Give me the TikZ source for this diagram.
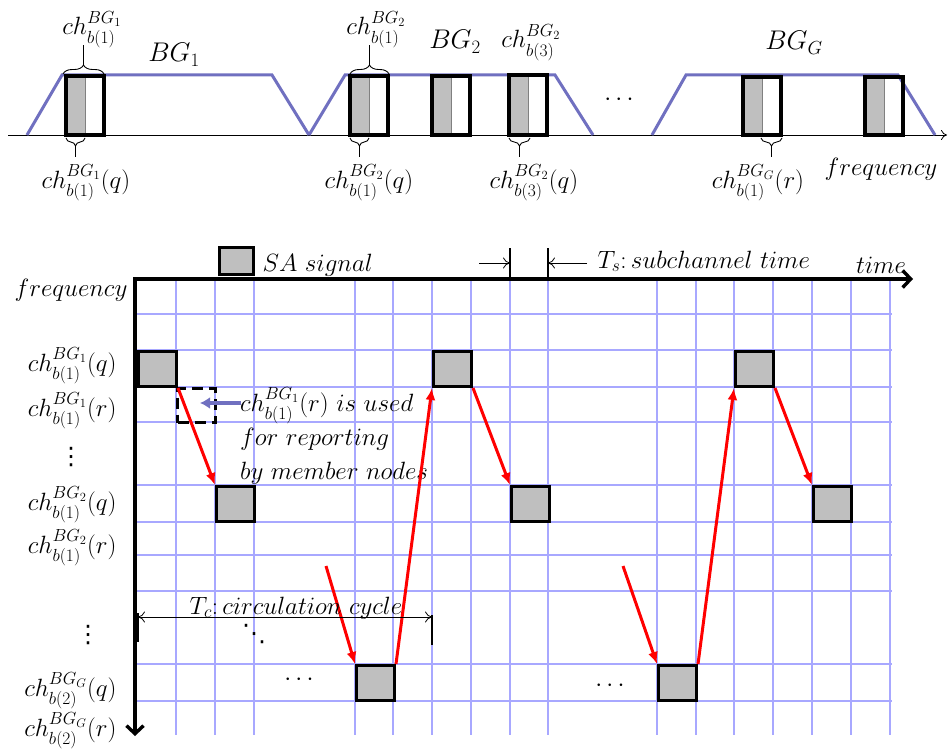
\RequirePackage{fix-cm}
\documentclass[tikz,border=0pt]{standalone}
\usepackage{amsmath, amssymb}
\usepackage{fontspec}
\usepackage{tikz}
\usetikzlibrary{arrows.meta, positioning, calc, decorations.pathreplacing}
\newfontfamily\dotsfont{DejaVu Sans}
\definecolor{BandBlue}{HTML}{7070C0}
\definecolor{GridBlue}{HTML}{A8A8FF}
\definecolor{SAGray}{HTML}{BFBFBF}
\definecolor{HopRed}{HTML}{FF0000}
\newcommand{\lbl}{\fontsize{25}{34}\selectfont}
\newcommand{\bglbl}{\fontsize{27}{32}\selectfont}
\newcommand{\dotlbl}{\dotsfont\fontsize{24}{28}\selectfont}

\begin{document}
\begin{tikzpicture}[x=1pt, y=-1pt,
    band/.style={BandBlue, line width=3pt},
    chbox/.style={line width=3.2pt},
    chbrace/.style={decorate, decoration={brace, amplitude=9pt}, line width=0.9pt},
    gridline/.style={GridBlue, line width=1.3pt},
    axisline/.style={line width=3.4pt, -{Straight Barb[length=8pt, width=17pt, line width=3.4pt]}},
    sabox/.style={draw, line width=3pt, fill=SAGray, minimum width=38pt, minimum height=35pt, inner sep=0pt, anchor=north west},
    reportbox/.style={draw, line width=3pt, dash pattern=on 11pt off 6pt, minimum width=38pt, minimum height=34pt, inner sep=0pt, anchor=north west},
    hop/.style={HopRed, line width=3pt, -{Latex[length=12pt, width=10pt]}},
    dimline/.style={line width=0.8pt},
    tick/.style={line width=2.4pt}]
    \useasboundingbox (0,0) rectangle (949,749);

    % subchannel bands
    \draw[-{To[length=6pt, width=10pt]}, line width=0.8pt] (8,135) -- (947,135);
    \draw[band] (27,135) -- (62,75) -- (272,75) -- (309,135);
    \draw[band] (309,135) -- (345,75) -- (555,75) -- (593,135);
    \draw[band] (652,135) -- (686,75) -- (898,75) -- (935,135);
    \foreach \x/\t in {66/76, 350/76, 432/76, 509/75, 743/77, 865/77} {
        \fill[SAGray] (\x,\t) rectangle (\x+19,135);
        \draw[gray, line width=0.8pt] (\x+19,\t) -- (\x+19,135);
        \draw[chbox] (\x,\t) rectangle (\x+38,135);
    }
    \draw[chbrace] (63,74) -- (104,74);
    \draw[line width=0.9pt] (83.5,65) -- (83.5,45);
    \draw[chbrace] (350,74) -- (389,74);
    \draw[line width=0.9pt] (369.5,65) -- (369.5,45);
    \foreach \a/\b in {66/85, 350/369, 509/530, 761/782} {
        \draw[chbrace, decoration={amplitude=8pt}] (\b,138) -- (\a,138);
        \draw[line width=0.9pt] ({(\a+\b)/2},146) -- ({(\a+\b)/2},157);
    }
    \node[font=\lbl, anchor=base] at (92,35) {$ch^{BG_1}_{b(1)}$};
    \node[font=\lbl, anchor=base] at (376,35) {$ch^{BG_2}_{b(1)}$};
    \node[font=\lbl, anchor=base] at (531,48) {$ch^{BG_2}_{b(3)}$};
    \node[font=\lbl, anchor=base] at (86,188) {$ch^{BG_1}_{b(1)}(q)$};
    \node[font=\lbl, anchor=base] at (369,188) {$ch^{BG_2}_{b(1)}(q)$};
    \node[font=\lbl, anchor=base] at (534,188) {$ch^{BG_2}_{b(3)}(q)$};
    \node[font=\lbl, anchor=base] at (758,188) {$ch^{BG_G}_{b(1)}(r)$};
    \node[font=\lbl, anchor=base] at (881,175) {$frequency$};
    \node[font=\bglbl, anchor=base] at (174,62) {$BG_1$};
    \node[font=\bglbl, anchor=base] at (455,49) {$BG_2$};
    \node[font=\bglbl, anchor=base] at (794,50) {$BG_G$};
    \node[font=\lbl] at (621,100) {$\cdots$};

    % time-frequency grid
    \foreach \y in {314,350,387,422,485,522,555,591,664,701}
        \draw[gridline] (135,\y) -- (892,\y);
    \foreach \x in {176,215,254,355,393,432,471,510,548,657,696,734,773,812,851,890}
        \draw[gridline] (\x,279) -- (\x,735);
    \draw[axisline] (133,279) -- (913,279);
    \draw[axisline] (135,279) -- (135,736);
    \node[font=\lbl, anchor=base] at (881,273) {$time$};
    \node[font=\lbl, anchor=base east] at (131,296) {$frequency$};

    \node[font=\lbl, anchor=base east] at (120,371) {$ch^{BG_1}_{b(1)}(q)$};
    \node[font=\lbl, anchor=base east] at (120,416) {$ch^{BG_1}_{b(1)}(r)$};
    \node[font=\dotlbl, inner sep=0pt] at (71,457) {⋮};
    \node[font=\lbl, anchor=base east] at (120,510) {$ch^{BG_2}_{b(1)}(q)$};
    \node[font=\lbl, anchor=base east] at (120,553) {$ch^{BG_2}_{b(1)}(r)$};
    \node[font=\dotlbl, inner sep=0pt] at (88,635) {⋮};
    \node[font=\lbl, anchor=base east] at (120,696) {$ch^{BG_G}_{b(2)}(q)$};
    \node[font=\lbl, anchor=base east] at (120,736) {$ch^{BG_G}_{b(2)}(r)$};

    % legend and subchannel time
    \node[sabox, minimum width=34pt, minimum height=27pt] (legend) at (218,246) {};
    \node[font=\lbl, anchor=base west] at (259,271) {$SA\ signal$};
    \coordinate (tsL) at (510,263);
    \coordinate (tsR) at (548,263);
    \draw[tick] (510,248) -- (510,279);
    \draw[tick] (548,248) -- (548,279);
    \draw[dimline, -{To[length=7pt, width=11pt]}] (479,263) -- (tsL);
    \draw[dimline, -{To[length=7pt, width=11pt]}] (587,263) -- (tsR);
    \node[font=\lbl, anchor=base west] at (594,268) {$T_s{:}\,subchannel\ time$};

    % SA signals
    \node[sabox] (sa1) at (137,350) {};
    \node[sabox] (sa2) at (215,485) {};
    \node[sabox] (sa3) at (432,350) {};
    \node[sabox] (sa4) at (510,485) {};
    \node[sabox] (sa5) at (355,664) {};
    \node[sabox] (sa6) at (734,350) {};
    \node[sabox] (sa7) at (812,485) {};
    \node[sabox] (sa8) at (657,664) {};
    \node[reportbox] (rep) at (176,387) {};
    \node[font=\lbl, align=left, anchor=west, inner sep=0pt] (note) at (240,436)
        {$ch^{BG_1}_{b(1)}(r)\ is\ used$\\ $for\ reporting$\\ $by\ member\ nodes$};
    \coordinate (repin) at (200,403);
    \draw[BandBlue, line width=3.6pt, -{Latex[length=10pt, width=12pt]}] (241,403) -- (repin);

    \coordinate (inA) at (326,566);
    \coordinate (inB) at (623,566);
    \draw[hop] (sa1.south east) -- (sa2.north west);
    \draw[hop] (inA) -- (sa5.north west);
    \draw[hop] (sa5.north east) -- (sa3.south west);
    \draw[hop] (sa3.south east) -- (sa4.north west);
    \draw[hop] (inB) -- (sa8.north west);
    \draw[hop] (sa8.north east) -- (sa6.south west);
    \draw[hop] (sa6.south east) -- (sa7.north west);

    % circulation cycle
    \coordinate (tcL) at (138,617);
    \coordinate (tcR) at (432,617);
    \draw[tick] (138,613) -- (138,642);
    \draw[tick] (432,615) -- (432,645);
    \draw[dimline, {To[length=7pt, width=11pt]}-{To[length=7pt, width=11pt]}] (tcL) -- (tcR);
    \node[font=\lbl, anchor=base] at (296,614) {$T_c{:}\,circulation\ cycle$};
    \node[font=\dotlbl, inner sep=0pt] at (254,634) {⋱};
    \node[font=\lbl, inner sep=0pt] at (301,680) {$\cdots$};
    \node[font=\lbl, inner sep=0pt] at (612,686) {$\cdots$};
\end{tikzpicture}
\end{document}
